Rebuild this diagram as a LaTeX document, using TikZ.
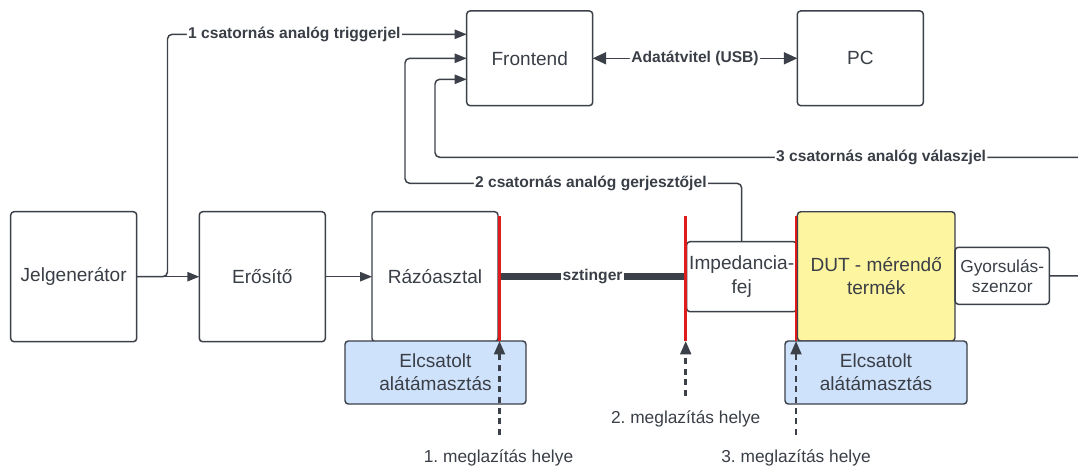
\documentclass[tikz,border=0pt]{standalone}
\usepackage{fontspec}
\setmainfont{Liberation Sans}
\usetikzlibrary{arrows.meta}
\frenchspacing

\definecolor{ink}{HTML}{3A3F47}
\definecolor{linec}{HTML}{3B4049}
\definecolor{supportblue}{HTML}{CFE2FB}
\definecolor{dutyellow}{HTML}{FEF5A0}
\definecolor{joint}{HTML}{E01B1B}

\tikzset{
  x=0.75pt, y=-0.75pt,
  box/.style={draw=linec, line width=1.1pt, rounded corners=2.5pt, fill=white,
    align=center, text=ink, font=\fontsize{14.3}{17.5}\selectfont,
    inner sep=2pt, outer sep=0pt},
  bigbox/.style={box, minimum width=94.5pt, minimum height=97.5pt},
  unitbox/.style={box, minimum width=94.5pt, minimum height=71pt},
  supportbox/.style={box, fill=supportblue, minimum height=47.25pt},
  conn/.style={draw=linec, line width=1.1pt, rounded corners=3.5pt},
  arr/.style={conn, -{Triangle[length=9pt,width=7pt]}},
  lbl/.style={fill=white, text=ink, font=\fontsize{11.7}{14}\selectfont\bfseries, inner sep=1pt},
  note/.style={text=ink, font=\fontsize{13}{15}\selectfont},
  jointline/.style={draw=joint, line width=2pt},
  probe/.style={draw=linec, line width=2pt, dash pattern=on 4.5pt off 3.5pt,
    -{Triangle[length=10pt,width=8pt]}},
  stinger/.style={draw=linec, line width=5.2pt},
}

\begin{document}
\begin{tikzpicture}
\useasboundingbox (0,0) rectangle (1078,468);
\fill[white] (0,0) rectangle (1078,468);
\clip (0,0) rectangle (1078,468);

% signal chain
\node[bigbox] (jel) at (73.7,276.7) {Jelgenerátor};
\node[bigbox] (erosito) at (262.3,276.7) {Erősítő};
\node[bigbox] (razo) at (435,276.7) {Rázóasztal};
\node[supportbox, minimum width=135.75pt] (elcsA) at (435.5,372.5) {Elcsatolt\\alátámasztás};

% acquisition
\node[unitbox] (front) at (529.7,58.3) {Frontend};
\node[unitbox] (pc) at (860.3,58.3) {PC};

% device under test
\node[box, minimum width=81.5pt, minimum height=52.5pt] (imp) at (741.7,276.7) {Impedancia-\\fej};
\node[box, fill=dutyellow, minimum width=118.2pt, minimum height=97pt] (dut) at (876.2,276.4) {DUT - mérendő\\termék};
\node[box, minimum width=70.7pt, minimum height=42.75pt, font=\fontsize{13}{15}\selectfont] (gyors) at (1002.2,275.8) {Gyorsulás-\\szenzor};
\node[supportbox, minimum width=136.5pt] (elcsB) at (876,372.5) {Elcsatolt\\alátámasztás};

% joints that can loosen
\coordinate (j1t) at (499.5,216); \coordinate (j1b) at (499.5,341);
\coordinate (j2t) at (685.7,216); \coordinate (j2b) at (685.7,341);
\coordinate (j3t) at (796,216);   \coordinate (j3b) at (796,341);

% stinger rod
\draw[stinger] (j1b |- razo.east) -- node[lbl]{sztinger} (j2b |- razo.east);

\draw[jointline] (j1t) -- (j1b);
\draw[jointline] (j2t) -- (j2b);
\draw[jointline] (j3t) -- (j3b);

% loosening markers
\coordinate (p1) at (499.5,435);
\coordinate (p2) at (685.7,396);
\coordinate (p3) at (796,435);
\draw[probe] (p1) -- (j1b);
\draw[probe] (p2) -- (j2b);
\draw[probe] (p3) -- (j3b);
\node[note] (n1) at (498.5,457.7) {1. meglazítás helye};
\node[note] (n2) at (685.7,419) {2. meglazítás helye};
\node[note] (n3) at (796,457.7) {3. meglazítás helye};

% signal connections
\draw[arr] (jel.east) -- (erosito.west);
\draw[arr] (erosito.east) -- (razo.west);
\draw[arr] (jel.east) -- (167.5,276.7) |- node[lbl, pos=0.712]{1 csatornás analóg triggerjel} ([yshift=18pt]front.west);
\draw[arr] (imp.north) |- node[lbl, pos=0.724]{2 csatornás analóg gerjesztőjel} (405,183.3) |- (front.west);
\coordinate (off) at (1095,276);
\draw[arr] (gyors.east) -- (off) |- node[lbl, pos=0.662]{3 csatornás analóg válaszjel} (435,157.3) |- ([yshift=-15.75pt]front.west);
\draw[conn, {Triangle[length=10pt,width=9pt]}-{Triangle[length=10pt,width=9pt]}] (front.east) -- node[lbl]{Adatátvitel (USB)} (pc.west);
\end{tikzpicture}
\end{document}
